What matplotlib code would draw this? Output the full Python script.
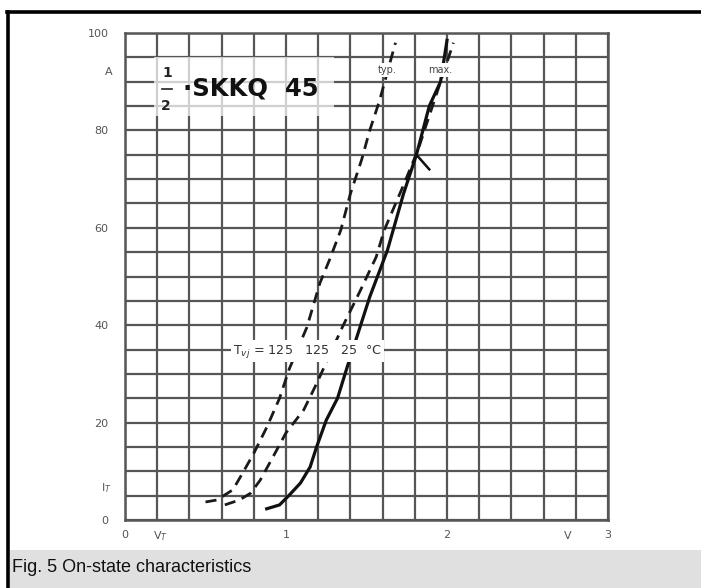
import numpy as np
import matplotlib
matplotlib.use("Agg")
import matplotlib.pyplot as plt
from matplotlib.lines import Line2D
from matplotlib.patches import Rectangle

# ---- data ----
x_ticks = [0, 1, 2, 3]
x_tick_labels = ["0", "1", "2", "3"]
y_ticks = [0, 20, 40, 60, 80, 100]
y_tick_labels = ["0", "20", "40", "60", "80", "100"]

# Tvj = 125 °C, typ. (dashed)
v_125_typ = [0.50, 0.57, 0.67, 0.73, 0.80, 0.88, 0.96, 1.02, 1.13, 1.21, 1.27, 1.34, 1.40, 1.47, 1.52, 1.58, 1.68]
i_125_typ = [3.7, 4.1, 6.2, 9.6, 13.7, 19.0, 25.0, 31.0, 39.6, 48.6, 53.4, 59.5, 67.0, 74.0, 80.0, 86.0, 98.0]

# Tvj = 125 °C, max. (dashed)
v_125_max = [0.62, 0.71, 0.78, 0.84, 0.92, 1.00, 1.11, 1.19, 1.35, 1.46, 1.56, 1.61, 1.72, 1.82, 1.91, 1.97, 2.04]
i_125_max = [3.1, 4.1, 5.5, 8.2, 13.0, 17.9, 22.6, 28.0, 39.6, 47.0, 54.0, 59.5, 68.0, 76.0, 85.0, 91.0, 98.0]

# Tvj = 25 °C, max. (solid)
v_25_max = [0.88, 0.96, 1.02, 1.09, 1.15, 1.19, 1.25, 1.32, 1.38, 1.52, 1.63, 1.73, 1.81, 1.89, 1.96, 2.00]
i_25_max = [2.3, 3.1, 5.1, 7.6, 10.9, 15.0, 20.5, 25.0, 31.4, 45.8, 55.4, 67.0, 75.0, 85.0, 90.0, 98.5]

# small pointer stroke next to the max. curve
v_pointer = [1.81, 1.89]
i_pointer = [75.0, 72.0]

W, H, DPI = 701, 588, 100
fig = plt.figure(figsize=(W / DPI, H / DPI), dpi=DPI)
fig.patch.set_facecolor("white")

# figure frame (top and left black rule) and caption band
fig.add_artist(Line2D([7 / W, 1.0], [1 - 12 / H, 1 - 12 / H], color="black", lw=2.6,
                      transform=fig.transFigure))
fig.add_artist(Line2D([8 / W, 8 / W], [1 - 12 / H, 0.0], color="black", lw=2.6,
                      transform=fig.transFigure))
fig.add_artist(Rectangle((10 / W, 0), 1 - 10 / W, 38 / H, transform=fig.transFigure,
                         facecolor="#e0e0e0", edgecolor="none"))
fig.text(12 / W, 1 - 568 / H, "Fig. 5 On-state characteristics", fontsize=13,
         family="Liberation Sans", color="#111111", va="center", ha="left")

ax = fig.add_axes([125 / W, 1 - 520 / H, (608 - 125) / W, (520 - 33) / H])
ax.set_xlim(0, 3)
ax.set_ylim(0, 100)

grid_col = "#565656"
ax.set_xticks(x_ticks)
ax.set_xticklabels(x_tick_labels)
ax.set_yticks(y_ticks)
ax.set_yticklabels(y_tick_labels)
ax.set_xticks(np.arange(0, 3.001, 0.2), minor=True)
ax.set_yticks(np.arange(0, 100.001, 5), minor=True)
ax.grid(which="both", color=grid_col, lw=1.6)
ax.tick_params(which="both", length=0, labelsize=8, labelcolor="#555555")
ax.tick_params(axis="y", pad=12)
ax.tick_params(axis="x", pad=7)
for s in ax.spines.values():
    s.set_color(grid_col)
    s.set_linewidth(1.8)
ax.set_axisbelow(True)

# curves
ax.plot(v_125_typ, i_125_typ, color="#1a1a1a", lw=2.0, ls=(0, (4, 2.5)))
ax.plot(v_125_max, i_125_max, color="#1a1a1a", lw=2.0, ls=(0, (4, 2.5)))
ax.plot(v_25_max, i_25_max, color="#111111", lw=2.3, ls="-")
ax.plot(v_pointer, i_pointer, color="#111111", lw=1.8)

# in-plot texts
box = dict(facecolor="white", edgecolor="none", pad=1.5)
ax.add_patch(Rectangle((0.18, 83.0), 1.12, 12.0, facecolor="white", edgecolor="none",
                       alpha=0.72, zorder=1.5))
ax.text(0.265, 91.8, "1", fontsize=10, fontweight="bold", ha="center", va="center",
        color="#222222", zorder=3)
ax.text(0.255, 85.0, "2", fontsize=10, fontweight="bold", ha="center", va="center",
        color="#222222", zorder=3)
ax.plot([0.23, 0.29], [88.5, 88.5], color="#222222", lw=1.2, zorder=3)
ax.text(0.36, 88.6, "\u00b7SKKQ  45", fontsize=17.5, fontweight="bold", ha="left", va="center",
        color="#111111", zorder=3)
ax.text(1.63, 92.4, "typ.", fontsize=7, ha="center", va="center", color="#444444", bbox=box)
ax.text(1.96, 92.4, "max.", fontsize=7, ha="center", va="center", color="#444444", bbox=box)
ax.text(0.67, 34.7, r"T$_{vj}$ = 125   125   25  °C", fontsize=9.2, ha="left", va="center",
        color="#333333", bbox=box)

# axis annotations (unit / symbol labels)
ax.text(-0.08, 92.0, "A", fontsize=8, ha="right", va="center", color="#555555")
ax.text(-0.08, 6.5, r"I$_T$", fontsize=8, ha="right", va="center", color="#555555")
ax.text(0.22, -3.3, r"V$_T$", fontsize=8, ha="center", va="center", color="#555555")
ax.text(2.75, -3.3, "V", fontsize=8, ha="center", va="center", color="#555555")

fig.savefig("out.png", dpi=DPI)
